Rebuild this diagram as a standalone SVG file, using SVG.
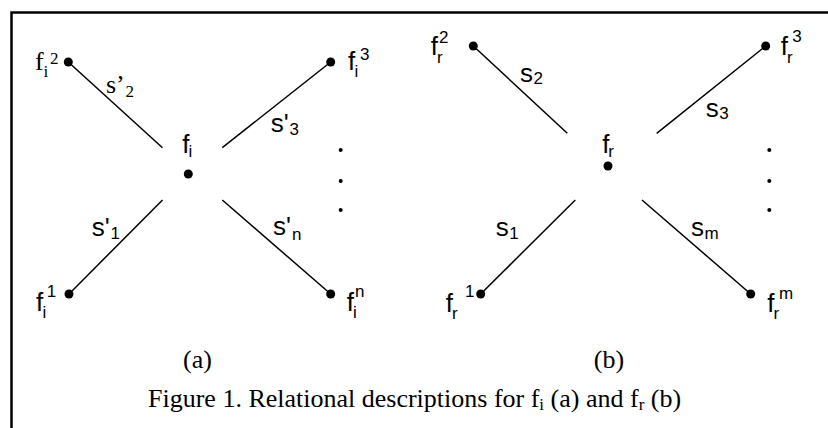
<svg xmlns="http://www.w3.org/2000/svg" width="828" height="428" viewBox="0 0 828 428">
<style>
.sans{font-family:"Liberation Sans",Arial,sans-serif;font-size:26px;fill:#000}
.serif{font-family:"Liberation Serif","Times New Roman",serif;font-size:26px;fill:#000}
.sm{font-size:17px}
.sup{font-size:17px}
.edge{stroke:#000;stroke-width:1.5;fill:none}
.dot{fill:#000}
</style>
<rect x="0" y="0" width="828" height="428" fill="#fff"/>
<path d="M11.5 428 V12.5 H828" fill="none" stroke="#000" stroke-width="2.5"/>

<g id="connectors">
  <line class="edge" x1="68.3" y1="62" x2="162.5" y2="147.7"/>
  <line class="edge" x1="222.3" y1="147.7" x2="330.7" y2="62"/>
  <line class="edge" x1="162.5" y1="200" x2="69" y2="294"/>
  <line class="edge" x1="222.3" y1="200" x2="330.7" y2="294"/>
  <line class="edge" x1="473.3" y1="46" x2="567.3" y2="133.3"/>
  <line class="edge" x1="656.7" y1="133.3" x2="765.7" y2="46"/>
  <line class="edge" x1="575.3" y1="200" x2="480.7" y2="294"/>
  <line class="edge" x1="642" y1="200" x2="750.7" y2="294"/>
</g>

<g id="panel-a">
  <g id="fi">
    <circle class="dot" cx="188.3" cy="174" r="4.5"/>
    <text class="sans"><tspan x="182.3" y="152.7">f</tspan><tspan class="sm" x="188.5" y="157">i</tspan></text>
  </g>
  <g id="fi2">
    <circle class="dot" cx="68.3" cy="62" r="4.5"/>
    <text class="serif"><tspan x="35" y="70">f</tspan><tspan class="sm" x="43.5" y="77">i</tspan><tspan class="sup" x="50" y="64">2</tspan></text>
  </g>
  <g id="fi3">
    <circle class="dot" cx="330.7" cy="62" r="4.5"/>
    <text class="sans"><tspan x="348" y="70">f</tspan><tspan class="sm" x="354.5" y="77">i</tspan><tspan class="sup" x="360" y="60">3</tspan></text>
  </g>
  <g id="fi1">
    <circle class="dot" cx="69" cy="294" r="4.5"/>
    <text class="sans"><tspan x="36" y="311">f</tspan><tspan class="sm" x="42.5" y="318">i</tspan><tspan class="sup" x="46.7" y="297">1</tspan></text>
  </g>
  <g id="fin">
    <circle class="dot" cx="330.7" cy="294" r="4.5"/>
    <text class="sans"><tspan x="346.7" y="311">f</tspan><tspan class="sm" x="353" y="318">i</tspan><tspan class="sup" x="355" y="297">n</tspan></text>
  </g>
  <g id="labels-a">
    <text class="serif"><tspan x="106" y="93.3">s’</tspan><tspan class="sup" x="125.5" y="97">2</tspan></text>
    <text class="sans"><tspan x="270.7" y="131.7">s'</tspan><tspan class="sup" x="289.5" y="135">3</tspan></text>
    <text class="sans"><tspan x="91.7" y="235.5">s'</tspan><tspan class="sup" x="110.5" y="239">1</tspan></text>
    <text class="sans"><tspan x="273" y="235">s'</tspan><tspan class="sup" x="292" y="240">n</tspan></text>
  </g>
  <g id="ellipsis-a">
    <circle class="dot" cx="340.7" cy="150" r="2"/>
    <circle class="dot" cx="340.7" cy="181" r="2"/>
    <circle class="dot" cx="340.7" cy="210" r="2"/>
  </g>
</g>

<g id="panel-b">
  <g id="fr">
    <circle class="dot" cx="608" cy="166" r="4.5"/>
    <text class="sans"><tspan x="602.3" y="152.7">f</tspan><tspan class="sm" x="608.3" y="157">r</tspan></text>
  </g>
  <g id="fr2">
    <circle class="dot" cx="473.3" cy="46" r="4.5"/>
    <text class="sans"><tspan x="430.7" y="55">f</tspan><tspan class="sm" x="437" y="63">r</tspan><tspan class="sup" x="439" y="43.3">2</tspan></text>
  </g>
  <g id="fr3">
    <circle class="dot" cx="765.7" cy="46" r="4.5"/>
    <text class="sans"><tspan x="780.7" y="55">f</tspan><tspan class="sm" x="787" y="63">r</tspan><tspan class="sup" x="792.3" y="41.7">3</tspan></text>
  </g>
  <g id="fr1">
    <circle class="dot" cx="480.7" cy="294" r="4.5"/>
    <text class="sans"><tspan x="445.7" y="312.3">f</tspan><tspan class="sm" x="452" y="319">r</tspan><tspan class="sup" x="465" y="297">1</tspan></text>
  </g>
  <g id="frm">
    <circle class="dot" cx="750.7" cy="294" r="4.5"/>
    <text class="sans"><tspan x="767.3" y="312.3">f</tspan><tspan class="sm" x="773.5" y="319">r</tspan><tspan class="sup" x="779" y="299">m</tspan></text>
  </g>
  <g id="labels-b">
    <text class="sans"><tspan x="520" y="81.7">s</tspan><tspan class="sup" x="533.5" y="84">2</tspan></text>
    <text class="sans"><tspan x="705.7" y="116.7">s</tspan><tspan class="sup" x="719.2" y="119">3</tspan></text>
    <text class="sans"><tspan x="495.7" y="235.7">s</tspan><tspan class="sup" x="509.2" y="239">1</tspan></text>
    <text class="sans"><tspan x="691" y="235.7">s</tspan><tspan class="sup" x="704.5" y="239">m</tspan></text>
  </g>
  <g id="ellipsis-b">
    <circle class="dot" cx="769.3" cy="150" r="2"/>
    <circle class="dot" cx="769.3" cy="181" r="2"/>
    <circle class="dot" cx="769.3" cy="210" r="2"/>
  </g>
</g>

<g id="captions">
  <text class="serif" x="197.5" y="368" text-anchor="middle">(a)</text>
  <text class="serif" x="609" y="368" text-anchor="middle">(b)</text>
  <text class="serif" x="148" y="407">Figure 1. Relational descriptions for f<tspan class="sm" dy="3">i</tspan><tspan dy="-3"> (a) and f</tspan><tspan class="sm" dy="3">r</tspan><tspan dy="-3"> (b)</tspan></text>
</g>
</svg>
